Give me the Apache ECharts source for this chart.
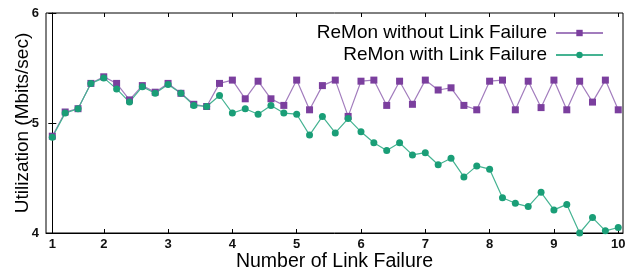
<!DOCTYPE html>
<html lang="en">
<head>
<meta charset="utf-8" />
<title>ReMon utilization</title>
<script src="https://cdn.jsdelivr.net/npm/echarts@6/dist/echarts.min.js"></script>
<style>
  body { margin: 0; background: #fff; }
  #main { width: 632px; height: 272px; }
</style>
</head>
<body>
<div id="main"></div>
<script>
// sample index along the x axis (45 runs), labels shown at some of them
var xIndex = [];
for (var i = 0; i < 45; i++) xIndex.push(i);
var xLabels = ['1', '2', '3', '4', '5', '6', '7', '8', '9', '10'];
var xLabelIdx = [0, 4, 9, 14, 19, 24, 29, 34, 39, 44];
var yTicks = [4, 5, 6];

var noFailure = [4.88, 5.10, 5.13, 5.36, 5.42, 5.36, 5.21, 5.34, 5.28, 5.36,
                 5.27, 5.17, 5.15, 5.36, 5.39, 5.22, 5.38, 5.22, 5.16, 5.39,
                 5.12, 5.34, 5.39, 5.06, 5.38, 5.39, 5.16, 5.38, 5.17, 5.39,
                 5.30, 5.32, 5.16, 5.12, 5.38, 5.39, 5.12, 5.38, 5.14, 5.39,
                 5.12, 5.38, 5.19, 5.39, 5.12];
var withFailure = [4.87, 5.09, 5.13, 5.36, 5.41, 5.31, 5.19, 5.33, 5.27, 5.35,
                   5.27, 5.16, 5.15, 5.25, 5.09, 5.13, 5.08, 5.16, 5.09, 5.08,
                   4.89, 5.06, 4.91, 5.04, 4.92, 4.82, 4.75, 4.82, 4.71, 4.73,
                   4.62, 4.68, 4.51, 4.61, 4.58, 4.32, 4.27, 4.24, 4.37, 4.21,
                   4.26, 4.00, 4.14, 4.02, 4.05];

var purple = '#7b3f9e';
var green = '#1a9e77';
var font = 'Liberation Sans, Arial, sans-serif';

function pairs(ys) {
  return xIndex.map(function (x, k) { return [x, ys[k]]; });
}

var myChart = echarts.init(document.getElementById('main'));
var tickStyle = { show: true, inside: true, length: 4, lineStyle: { color: '#000' } };

var option = {
  animation: false,
  grid: { left: 46, right: 9, top: 13, bottom: 39, show: true, borderColor: '#000', borderWidth: 1,
          containLabel: false, outerBoundsMode: 'none' },
  legend: {
    orient: 'vertical', right: 23, top: 18, align: 'right',
    itemWidth: 47, itemHeight: 8, itemGap: 2,
    textStyle: { fontSize: 19, lineHeight: 20, color: '#000', fontFamily: font, padding: [0, 4, 0, 0] },
    data: ['ReMon without Link Failure', 'ReMon with Link Failure']
  },
  xAxis: [{
    type: 'value', min: -0.49, max: 44.37,
    name: 'Number of Link Failure', nameLocation: 'middle', nameGap: 19, nameMoveOverlap: false,
    nameTextStyle: { fontSize: 19.5, color: '#000', fontFamily: font },
    axisLine: { show: true, lineStyle: { color: '#000' } },
    axisTick: Object.assign({ customValues: xLabelIdx }, tickStyle),
    axisLabel: {
      customValues: xLabelIdx, margin: 5, fontSize: 13, fontWeight: 'bold', color: '#111', fontFamily: font,
      formatter: function (v) { return xLabels[xLabelIdx.indexOf(Math.round(v))]; }
    },
    splitLine: { show: false }
  }, {
    type: 'value', position: 'top', min: -0.49, max: 44.37,
    axisLine: { show: false },
    axisTick: Object.assign({ customValues: xLabelIdx }, tickStyle),
    axisLabel: { show: false }, splitLine: { show: false }
  }],
  yAxis: [{
    type: 'value', min: 4, max: 6, interval: 1,
    name: 'Utilization (Mbits/sec)', nameLocation: 'middle', nameGap: 14, nameMoveOverlap: false,
    nameTextStyle: { fontSize: 19, color: '#000', fontFamily: font },
    axisLine: { show: true, lineStyle: { color: '#000' } },
    axisTick: tickStyle,
    axisLabel: { margin: 7, fontSize: 13, fontWeight: 'bold', color: '#111', fontFamily: font,
      formatter: function (v) { return yTicks.indexOf(v) >= 0 ? String(v) : ''; } },
    splitLine: { show: false }
  }, {
    type: 'value', position: 'right', min: 4, max: 6, interval: 1,
    axisLine: { show: false }, axisTick: tickStyle,
    axisLabel: { show: false }, splitLine: { show: false }
  }],
  series: [{
    name: 'ReMon without Link Failure', type: 'line',
    data: pairs(noFailure),
    symbol: 'rect', symbolSize: 7,
    itemStyle: { color: purple },
    lineStyle: { color: '#a27cbd', width: 1.2 }
  }, {
    name: 'ReMon with Link Failure', type: 'line',
    data: pairs(withFailure),
    symbol: 'circle', symbolSize: 7,
    itemStyle: { color: green },
    lineStyle: { color: '#45b392', width: 1.2 }
  }]
};
myChart.setOption(option);
</script>
</body>
</html>
